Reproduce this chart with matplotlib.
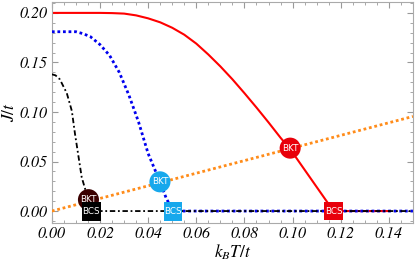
import numpy as np
import matplotlib
matplotlib.use('Agg')
import matplotlib.pyplot as plt
from matplotlib.ticker import MultipleLocator

plt.rcParams['mathtext.fontset'] = 'stix'

# red curve (largest gap)
red_T = [0.0, 0.02, 0.025, 0.03, 0.035, 0.04, 0.045, 0.05, 0.055, 0.06, 0.065,
         0.07, 0.075, 0.08, 0.085, 0.09, 0.095, 0.099, 0.117, 0.14]
red_J = [0.200, 0.200, 0.1998, 0.1993, 0.1975, 0.1945, 0.1905, 0.185, 0.178, 0.169,
         0.158, 0.146, 0.133, 0.119, 0.1045, 0.0895, 0.074, 0.0625, 0.0, 0.0]

# blue dotted curve
blue_T = [0.0, 0.01, 0.013, 0.016, 0.02, 0.024, 0.028, 0.032, 0.036, 0.040,
          0.045, 0.0475, 0.0503, 0.15]
blue_J = [0.181, 0.181, 0.179, 0.176, 0.168, 0.157, 0.140, 0.117, 0.090, 0.058,
          0.029, 0.013, 0.0, 0.0]

# black dash-dot curve
black_T = [0.0, 0.0015, 0.0033, 0.0062, 0.0083, 0.0096, 0.0124, 0.0152, 0.0164, 0.15]
black_J = [0.138, 0.137, 0.133, 0.119, 0.101, 0.078, 0.034, 0.011, 0.0, 0.0]

# BKT line
line_T = [0.0, 0.15]
line_J = [0.0, 0.0955]

bkt_T = [0.0152, 0.0449, 0.099]
bkt_J = [0.0115, 0.0295, 0.0635]
bkt_col = ['#3a0000', '#17a8ec', '#e8000b']

bcs_T = [0.0164, 0.0503, 0.117]
bcs_J = [-0.0005, -0.0005, 0.0]
bcs_col = ['#000000', '#17a8ec', '#e8000b']

x_ticks = [0.0, 0.02, 0.04, 0.06, 0.08, 0.10, 0.12, 0.14]
y_ticks = [0.0, 0.05, 0.10, 0.15, 0.20]

fig = plt.figure(figsize=(4.15, 2.67), dpi=100)
ax = fig.add_axes([0.125, 0.165, 0.87, 0.8275])

ax.plot(red_T, red_J, color='#ff0000', lw=1.5, zorder=2)
ax.plot(line_T, line_J, color='#ff8c1a', lw=2, ls=(0, (1, 1)), zorder=3)
ax.plot(blue_T, blue_J, color='#0000ee', lw=2, ls=(0, (1, 1)), zorder=3)
ax.plot(black_T, black_J, color='black', lw=1.3, ls=(0, (3, 1.5, 1, 1.5)), zorder=3)

ax.scatter(bkt_T, bkt_J, s=230, c=bkt_col, marker='o', edgecolors='none', zorder=5)
ax.scatter(bcs_T, bcs_J, s=175, c=bcs_col, marker='s', edgecolors='none', zorder=5)
for t, j in zip(bkt_T, bkt_J):
    ax.text(t, j, 'BKT', color='white', fontsize=6.3, family='DejaVu Sans',
            ha='center', va='center', zorder=6)
for t, j in zip(bcs_T, bcs_J):
    ax.text(t, j, 'BCS', color='white', fontsize=6.3, family='DejaVu Sans',
            ha='center', va='center', zorder=6)

ax.set_xlim(0, 0.15)
ax.set_ylim(-0.012, 0.211)
ax.set_xticks(x_ticks)
ax.set_xticklabels(['%.2f' % v for v in x_ticks], family='STIXGeneral',
                   style='italic', fontsize=11.5)
ax.set_yticks(y_ticks)
ax.set_yticklabels(['%.2f' % v for v in y_ticks], family='STIXGeneral',
                   style='italic', fontsize=11.5)
ax.xaxis.set_minor_locator(MultipleLocator(0.005))
ax.yaxis.set_minor_locator(MultipleLocator(0.01))
ax.tick_params(which='both', direction='in', top=True, right=True, color='#999999',
               pad=3)
ax.tick_params(which='major', length=4)
ax.tick_params(which='minor', length=2)
for sp in ax.spines.values():
    sp.set_color('#aaaaaa')

ax.set_xlabel('$k_BT/t$', fontsize=12.5, labelpad=1)
ax.set_ylabel('$J/t$', fontsize=12.5, labelpad=1)

fig.savefig('out.png', dpi=100)
